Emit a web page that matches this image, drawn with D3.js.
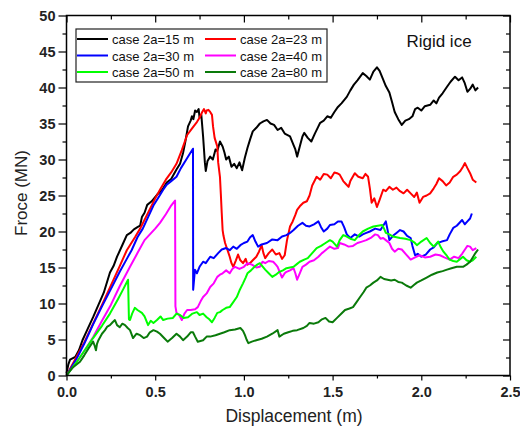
<!DOCTYPE html>
<html>
<head>
<meta charset="utf-8">
<script src="https://cdn.jsdelivr.net/npm/d3@7"></script>
<style>
  body { margin: 0; background: #fff; }
  svg { font-family: "Liberation Sans", Arial, sans-serif; }
  .axis path { stroke: none; }
  .axis line { stroke: #000; stroke-width: 1.2; }
  .tick-lbl text { font-size: 14.5px; font-weight: bold; fill: #222; }
</style>
</head>
<body>
<div id="chart"></div>
<script>
// Daten: Verschiebung (m) / Kraft (MN)
const seriesNames = ["case 2a=15 m", "case 2a=23 m", "case 2a=30 m", "case 2a=40 m", "case 2a=50 m", "case 2a=80 m"];
const seriesColors = ["#000000", "#ff0000", "#0000ff", "#ff00ff", "#00ff00", "#0a7a0a"];

const case15 = [[0,0.3],[0.01,1.5],[0.02,2.2],[0.05,2.6],[0.07,3.5],[0.09,4.9],[0.12,6.5],[0.15,8.1],[0.18,9.8],[0.21,11.5],[0.245,14.3],[0.265,15.2],[0.285,16.5],[0.32,18.4],[0.34,19.5],[0.36,19.8],[0.38,20.3],[0.40,20.6],[0.415,20.8],[0.425,22.0],[0.44,22.6],[0.455,23.7],[0.48,24.2],[0.51,25.1],[0.54,25.8],[0.565,26.8],[0.59,27.3],[0.62,28.6],[0.64,29.4],[0.657,30.9],[0.67,32.5],[0.685,34.6],[0.70,35.4],[0.707,36.0],[0.715,35.6],[0.725,36.8],[0.735,36.6],[0.745,37.0],[0.75,35.8],[0.76,36.2],[0.77,33.2],[0.78,29.6],[0.785,28.4],[0.795,29.8],[0.81,30.4],[0.825,30.0],[0.84,31.4],[0.85,31.2],[0.865,32.5],[0.88,31.8],[0.89,31.0],[0.90,30.0],[0.915,30.4],[0.93,29.0],[0.945,29.4],[0.96,28.8],[0.975,29.6],[0.99,28.5],[1.005,30.2],[1.02,31.6],[1.035,32.8],[1.05,33.9],[1.07,34.4],[1.09,35.0],[1.11,35.3],[1.13,35.5],[1.15,35.0],[1.17,34.8],[1.19,34.1],[1.21,34.4],[1.23,33.6],[1.26,33.2],[1.28,32.0],[1.29,31.4],[1.30,30.4],[1.315,31.8],[1.33,33.2],[1.34,33.7],[1.36,33.0],[1.38,32.5],[1.40,33.6],[1.42,34.6],[1.43,35.1],[1.45,35.4],[1.47,36.0],[1.49,35.8],[1.51,36.6],[1.53,37.3],[1.55,37.8],[1.58,38.7],[1.60,39.6],[1.62,40.4],[1.64,41.0],[1.67,42.0],[1.69,41.6],[1.71,41.1],[1.73,42.2],[1.75,42.8],[1.765,42.3],[1.78,41.4],[1.80,40.2],[1.82,39.3],[1.835,38.0],[1.85,36.6],[1.87,35.6],[1.89,34.8],[1.91,35.4],[1.93,35.6],[1.95,36.0],[1.965,37.0],[1.98,37.2],[2.00,36.8],[2.02,37.4],[2.05,37.6],[2.07,38.2],[2.085,37.8],[2.10,38.6],[2.12,39.2],[2.145,40.1],[2.165,40.8],[2.19,41.5],[2.21,41.0],[2.23,41.4],[2.245,40.6],[2.26,39.4],[2.275,39.8],[2.29,40.4],[2.305,39.6],[2.32,40.0]];

const case23 = [[0,0],[0.1,4.6],[0.2,9.8],[0.3,15.2],[0.34,17.4],[0.386,19.2],[0.415,20.4],[0.46,22.6],[0.5,24.6],[0.527,25.8],[0.56,27.2],[0.59,28.2],[0.62,29.4],[0.65,31.3],[0.68,33.4],[0.71,34.4],[0.735,35.2],[0.75,35.8],[0.765,36.6],[0.775,37.0],[0.785,36.4],[0.79,36.8],[0.80,36.9],[0.81,36.6],[0.82,36.2],[0.826,34.6],[0.835,33.0],[0.845,32.2],[0.85,31.8],[0.855,29.6],[0.865,27.6],[0.87,25.2],[0.875,22.6],[0.88,20.2],[0.885,19.4],[0.894,18.4],[0.905,17.6],[0.92,16.5],[0.93,15.6],[0.94,15.1],[0.955,16.0],[0.967,16.8],[0.98,16.0],[0.995,15.6],[1.01,16.2],[1.02,15.4],[1.034,15.6],[1.05,16.0],[1.07,16.5],[1.085,17.2],[1.10,18.1],[1.11,17.0],[1.12,16.3],[1.14,17.0],[1.16,17.5],[1.18,16.8],[1.20,17.0],[1.215,16.2],[1.23,16.7],[1.243,18.8],[1.26,20.7],[1.275,21.4],[1.29,22.3],[1.30,23.0],[1.315,23.5],[1.335,24.0],[1.355,24.2],[1.37,25.0],[1.385,26.4],[1.41,27.6],[1.43,27.2],[1.45,28.0],[1.47,27.9],[1.49,27.4],[1.51,28.2],[1.525,28.1],[1.54,27.9],[1.56,27.0],[1.575,26.6],[1.59,26.2],[1.60,27.0],[1.625,28.1],[1.645,27.6],[1.67,27.4],[1.685,28.0],[1.70,27.6],[1.71,26.0],[1.72,24.0],[1.735,24.6],[1.75,23.4],[1.765,24.4],[1.785,25.8],[1.80,25.6],[1.82,26.2],[1.84,25.8],[1.86,26.1],[1.88,25.6],[1.90,25.3],[1.92,25.8],[1.94,25.3],[1.96,24.8],[1.975,25.4],[1.99,24.0],[2.01,24.8],[2.03,25.0],[2.05,25.3],[2.07,26.0],[2.085,26.6],[2.10,27.4],[2.12,27.0],[2.14,26.4],[2.16,26.8],[2.18,27.6],[2.20,27.9],[2.22,28.4],[2.235,29.0],[2.246,29.5],[2.26,28.8],[2.275,28.1],[2.29,27.2],[2.31,26.8]];

const case30 = [[0,0],[0.05,2.0],[0.1,4.4],[0.15,7.1],[0.2,9.6],[0.25,12.0],[0.3,14.4],[0.34,16.2],[0.367,17.4],[0.40,19.2],[0.43,20.4],[0.46,22.0],[0.49,23.6],[0.52,24.8],[0.545,25.8],[0.565,26.5],[0.59,27.0],[0.62,27.6],[0.645,28.8],[0.67,29.8],[0.69,30.6],[0.713,31.5],[0.714,11.9],[0.724,14.7],[0.735,14.2],[0.75,15.1],[0.77,15.8],[0.785,15.6],[0.81,16.5],[0.83,16.3],[0.855,17.0],[0.875,17.5],[0.90,17.7],[0.92,17.4],[0.94,17.9],[0.96,17.6],[0.98,18.1],[1.00,18.4],[1.02,18.6],[1.035,19.2],[1.05,19.5],[1.065,18.6],[1.08,17.9],[1.10,18.2],[1.13,18.4],[1.16,18.9],[1.19,18.8],[1.215,19.3],[1.24,19.5],[1.26,19.8],[1.28,20.2],[1.305,20.8],[1.33,21.2],[1.35,20.8],[1.37,20.7],[1.395,21.0],[1.42,21.4],[1.435,20.6],[1.45,20.0],[1.47,20.4],[1.485,20.9],[1.51,21.0],[1.53,21.4],[1.55,21.4],[1.565,20.6],[1.58,19.6],[1.60,19.1],[1.625,19.6],[1.65,19.3],[1.67,19.6],[1.69,19.8],[1.71,20.0],[1.74,20.4],[1.77,20.2],[1.785,20.8],[1.80,21.4],[1.81,20.2],[1.82,18.8],[1.84,19.4],[1.86,19.8],[1.88,20.2],[1.90,20.0],[1.92,19.4],[1.94,19.1],[1.95,18.0],[1.965,16.7],[1.98,16.9],[2.00,16.5],[2.025,16.8],[2.05,17.5],[2.07,17.8],[2.09,18.4],[2.115,18.6],[2.145,18.8],[2.16,19.6],[2.18,20.5],[2.20,20.8],[2.23,21.6],[2.245,21.0],[2.26,21.4],[2.275,21.8],[2.285,22.5]];

const case40 = [[0,0],[0.05,1.6],[0.1,3.4],[0.15,5.3],[0.2,7.6],[0.25,9.8],[0.30,12.4],[0.358,15.1],[0.40,17.0],[0.44,18.8],[0.47,19.6],[0.50,20.4],[0.527,21.2],[0.56,22.4],[0.59,23.6],[0.612,24.3],[0.614,9.6],[0.62,8.7],[0.635,8.4],[0.65,7.7],[0.665,8.6],[0.68,9.1],[0.70,9.1],[0.725,9.2],[0.74,9.5],[0.76,10.5],[0.77,10.9],[0.79,11.4],[0.81,12.3],[0.83,12.8],[0.85,13.7],[0.865,14.0],[0.88,14.2],[0.90,14.6],[0.92,14.2],[0.935,14.8],[0.95,15.1],[0.975,14.8],[1.00,15.1],[1.02,15.6],[1.045,15.4],[1.07,15.0],[1.09,15.1],[1.105,15.8],[1.12,15.6],[1.14,15.9],[1.165,15.8],[1.18,15.4],[1.19,15.1],[1.205,14.2],[1.215,13.6],[1.23,14.2],[1.24,14.4],[1.26,14.6],[1.28,14.9],[1.29,14.2],[1.30,13.3],[1.315,14.2],[1.33,15.1],[1.35,15.4],[1.37,15.8],[1.395,16.0],[1.42,16.5],[1.44,17.0],[1.45,17.2],[1.47,17.6],[1.485,17.9],[1.51,17.6],[1.53,17.7],[1.54,18.4],[1.565,18.2],[1.59,17.9],[1.615,18.0],[1.64,18.4],[1.665,18.6],[1.69,18.8],[1.72,19.2],[1.74,19.6],[1.755,19.5],[1.77,19.0],[1.785,19.1],[1.80,18.8],[1.82,18.4],[1.835,17.6],[1.85,17.2],[1.87,17.6],[1.89,17.5],[1.915,16.8],[1.94,16.1],[1.965,16.4],[1.99,16.7],[2.02,16.4],[2.05,16.5],[2.08,16.8],[2.105,16.7],[2.13,16.4],[2.16,16.1],[2.185,16.5],[2.21,16.3],[2.23,16.9],[2.246,17.5],[2.26,18.0],[2.275,17.9],[2.29,17.4],[2.31,17.7]];

const case50 = [[0,0],[0.05,1.6],[0.1,3.4],[0.15,5.2],[0.2,6.9],[0.245,8.6],[0.29,10.6],[0.32,12.0],[0.347,13.3],[0.352,7.8],[0.358,7.7],[0.37,8.6],[0.385,9.4],[0.40,9.1],[0.425,8.7],[0.44,8.2],[0.46,7.0],[0.475,7.6],[0.49,7.3],[0.51,7.7],[0.53,8.2],[0.545,7.7],[0.57,7.9],[0.60,8.0],[0.62,8.6],[0.64,8.4],[0.66,8.0],[0.685,8.1],[0.71,8.6],[0.735,8.8],[0.75,8.4],[0.77,8.6],[0.79,8.1],[0.805,7.8],[0.82,7.4],[0.835,8.0],[0.85,8.7],[0.865,8.8],[0.88,9.1],[0.90,9.4],[0.92,9.5],[0.94,10.2],[0.96,10.9],[0.975,11.8],[0.995,12.8],[1.01,13.6],[1.02,14.2],[1.04,14.6],[1.06,15.1],[1.075,15.4],[1.09,15.6],[1.10,15.3],[1.12,14.7],[1.14,14.2],[1.16,13.7],[1.18,14.0],[1.20,14.4],[1.22,14.6],[1.24,14.9],[1.26,15.0],[1.28,15.1],[1.30,15.5],[1.315,15.8],[1.34,16.1],[1.36,16.3],[1.385,17.0],[1.41,17.7],[1.435,18.0],[1.46,18.4],[1.485,18.8],[1.50,18.6],[1.525,17.9],[1.54,18.8],[1.56,19.5],[1.58,19.3],[1.60,19.0],[1.625,18.8],[1.645,19.4],[1.67,20.0],[1.70,20.4],[1.73,20.7],[1.755,20.8],[1.78,20.9],[1.79,20.4],[1.80,19.8],[1.82,19.6],[1.84,19.3],[1.86,19.2],[1.88,19.1],[1.91,19.0],[1.94,18.8],[1.96,18.5],[1.975,18.1],[2.00,18.6],[2.03,19.1],[2.05,18.4],[2.07,17.9],[2.095,18.6],[2.11,17.8],[2.125,17.2],[2.145,16.6],[2.16,16.1],[2.18,15.9],[2.20,15.8],[2.22,16.2],[2.235,16.5],[2.255,16.0],[2.275,15.8],[2.29,16.0],[2.31,16.5]];

const case80 = [[0,0],[0.03,1.0],[0.076,1.9],[0.10,2.8],[0.125,3.8],[0.15,4.7],[0.158,4.2],[0.166,3.5],[0.172,4.4],[0.18,4.9],[0.20,5.8],[0.217,6.3],[0.23,6.8],[0.245,7.0],[0.26,7.4],[0.273,7.7],[0.285,7.0],[0.30,6.7],[0.315,7.2],[0.33,7.0],[0.345,6.6],[0.358,6.3],[0.375,5.2],[0.395,5.8],[0.415,5.6],[0.435,5.2],[0.454,5.4],[0.47,6.0],[0.49,6.3],[0.51,6.1],[0.527,5.8],[0.55,5.2],[0.57,4.7],[0.595,5.2],[0.62,5.8],[0.64,5.4],[0.657,4.9],[0.68,5.4],[0.70,6.0],[0.713,6.0],[0.725,5.4],[0.74,4.7],[0.77,4.9],[0.79,5.4],[0.81,5.4],[0.84,5.6],[0.865,5.8],[0.89,6.0],[0.92,6.3],[0.95,6.4],[0.98,6.6],[0.995,6.2],[1.006,5.6],[1.015,5.0],[1.025,4.5],[1.045,4.7],[1.07,4.9],[1.10,5.1],[1.13,5.4],[1.16,5.8],[1.19,6.3],[1.20,5.4],[1.225,5.8],[1.25,6.0],[1.275,6.2],[1.30,6.3],[1.335,6.6],[1.355,6.9],[1.37,7.3],[1.395,7.2],[1.42,7.4],[1.44,7.8],[1.46,8.0],[1.48,7.5],[1.50,7.4],[1.525,8.0],[1.55,8.6],[1.57,9.1],[1.595,9.3],[1.615,9.5],[1.635,10.2],[1.655,10.9],[1.675,11.6],[1.69,12.2],[1.71,12.5],[1.73,12.9],[1.75,13.2],[1.77,13.7],[1.79,13.4],[1.81,13.3],[1.83,13.2],[1.85,13.3],[1.87,13.0],[1.89,12.9],[1.915,12.5],[1.94,12.2],[1.96,12.6],[1.975,12.9],[2.00,13.2],[2.03,13.6],[2.06,14.0],[2.09,14.3],[2.12,14.5],[2.145,14.7],[2.17,14.9],[2.20,15.1],[2.235,15.1],[2.255,15.4],[2.275,15.8],[2.29,16.4],[2.305,17.0],[2.32,17.5]];

const allSeries = [case15, case23, case30, case40, case50, case80];

const xMajor = [0, 0.5, 1.0, 1.5, 2.0, 2.5];
const xMinor = [0.25, 0.75, 1.25, 1.75, 2.25];
const yMajor = [0, 5, 10, 15, 20, 25, 30, 35, 40, 45, 50];
const yMinor = [2.5, 7.5, 12.5, 17.5, 22.5, 27.5, 32.5, 37.5, 42.5, 47.5];

const W = 520, H = 430;
const x = d3.scaleLinear().domain([0, 2.5]).range([66.5, 510]);
const y = d3.scaleLinear().domain([0, 50]).range([375.5, 15.5]);

const svg = d3.select("#chart").append("svg").attr("width", W).attr("height", H);

// Kurven
const line = d3.line().x(d => x(d[0])).y(d => y(d[1]));
svg.selectAll(".curve").data(allSeries).enter().append("path")
  .attr("class", "curve")
  .attr("d", line)
  .attr("fill", "none")
  .attr("stroke", (d, i) => seriesColors[i])
  .attr("stroke-width", 2)
  .attr("stroke-linejoin", "round");

// Achsen
const addAxis = (gen, tf, cls) => svg.append("g").attr("class", "axis " + (cls || "")).attr("transform", tf).call(gen);
addAxis(d3.axisBottom(x).tickValues(xMajor).tickSize(5).tickPadding(6).tickFormat(d3.format(".1f")), `translate(0,${y(0)})`, "tick-lbl");
addAxis(d3.axisBottom(x).tickValues(xMinor).tickSize(3).tickFormat(""), `translate(0,${y(0)})`);
addAxis(d3.axisLeft(y).tickValues(yMajor).tickSize(8).tickPadding(3).tickFormat(d3.format("d")), `translate(${x(0)},0)`, "tick-lbl");
addAxis(d3.axisLeft(y).tickValues(yMinor).tickSize(4).tickFormat(""), `translate(${x(0)},0)`);
addAxis(d3.axisTop(x).tickValues(xMajor).tickSize(-7).tickFormat(""), `translate(0,${y(50)})`);
addAxis(d3.axisTop(x).tickValues(xMinor).tickSize(-4).tickFormat(""), `translate(0,${y(50)})`);
addAxis(d3.axisRight(y).tickValues(yMajor).tickSize(-7).tickFormat(""), `translate(${x(2.5)},0)`);
addAxis(d3.axisRight(y).tickValues(yMinor).tickSize(-4).tickFormat(""), `translate(${x(2.5)},0)`);

// Rahmen
svg.append("rect")
  .attr("x", x(0)).attr("y", y(50))
  .attr("width", x(2.5) - x(0)).attr("height", y(0) - y(50))
  .attr("fill", "none").attr("stroke", "#000").attr("stroke-width", 1.5);

// Achsentitel
svg.append("text").attr("x", 294).attr("y", 422).attr("text-anchor", "middle")
  .style("font-size", "17.5px").attr("fill", "#222").text("Displacement (m)");
svg.append("text").attr("transform", "translate(27,193) rotate(-90)").attr("text-anchor", "middle")
  .style("font-size", "17px").attr("fill", "#222").text("Froce (MN)");

svg.append("text").attr("x", 439).attr("y", 47).attr("text-anchor", "middle")
  .style("font-size", "17px").attr("fill", "#111").text("Rigid ice");

// Legende
svg.append("rect").attr("x", 76).attr("y", 29).attr("width", 251).attr("height", 53)
  .attr("fill", "#fff").attr("stroke", "#222").attr("stroke-width", 1.2);
const leg = svg.selectAll(".leg").data(seriesNames).enter().append("g")
  .attr("class", "leg")
  .attr("transform", (d, i) => `translate(${i % 2 === 0 ? 77 : 205},${39 + Math.floor(i / 2) * 16.5})`);
leg.append("line").attr("x1", 0).attr("x2", 31).attr("y1", 0).attr("y2", 0)
  .attr("stroke", (d, i) => seriesColors[i]).attr("stroke-width", 2);
leg.append("text").attr("x", 35).attr("y", 5).style("font-size", "13px").attr("fill", "#111").text(d => d);
</script>
</body>
</html>
